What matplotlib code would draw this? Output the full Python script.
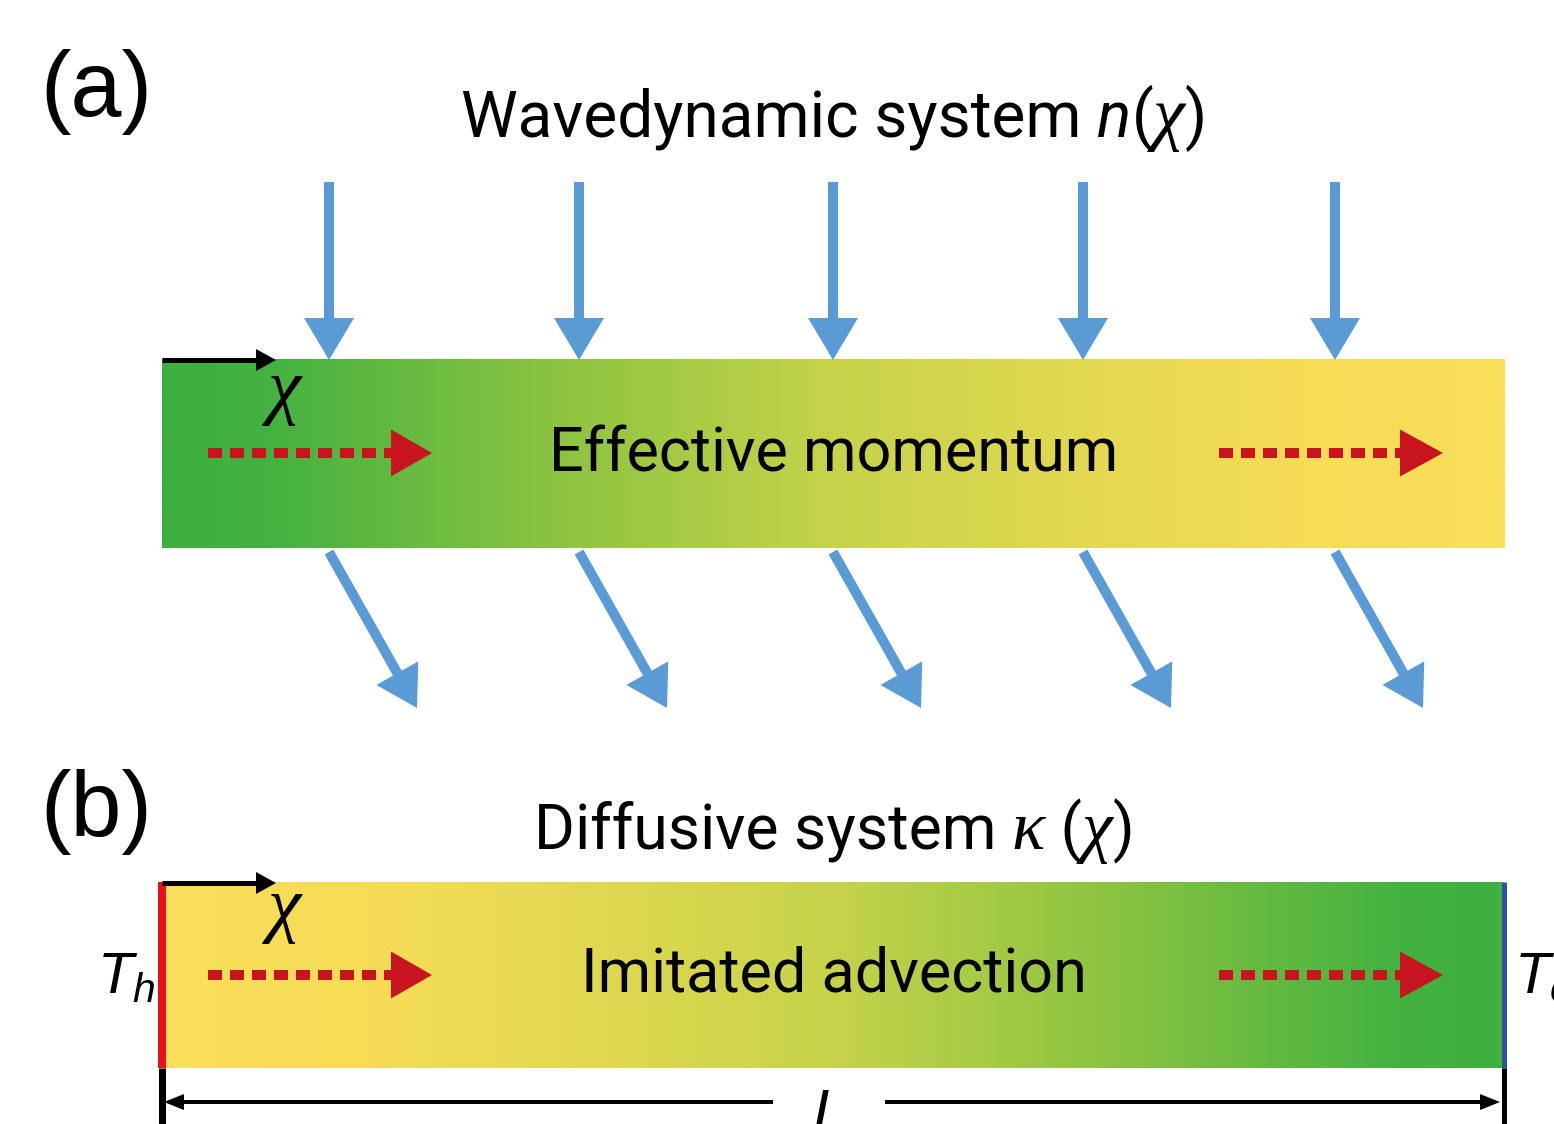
import numpy as np
import matplotlib
matplotlib.use("Agg")
import matplotlib.pyplot as plt
from matplotlib.colors import LinearSegmentedColormap
from matplotlib.patches import Polygon

W, H, DPI = 1554, 1124, 100

plt.rcParams["mathtext.fontset"] = "custom"
plt.rcParams["mathtext.rm"] = "Liberation Sans"
plt.rcParams["mathtext.it"] = "Liberation Sans:italic"

# ---- content -------------------------------------------------------------
panel_labels = ["(a)", "(b)"]
bar_labels = ["Effective momentum", "Imitated advection"]
title_a = [("Wavedynamic system ", "sans"), ("n", "sans_it"), ("(", "sans"),
           ("\u03c7", "serif_it"), (")", "sans")]
title_b = [("Diffusive system ", "sans"), ("\u03ba", "serif_it"), (" (", "sans"),
           ("\u03c7", "serif_it"), (")", "sans")]
coord_label = "\u03c7"
hot_label, cold_label, length_label = r"$T_h$", r"$T_c$", "L"

# gradient of the effective index / conductivity along the bar
grad_stops = [0.0, 0.08, 0.3, 0.5, 0.7, 0.85, 1.0]
grad_colors = ["#3db03f", "#44b240", "#8fc441", "#c6d34a", "#e4d951", "#f7dc56", "#f9df5a"]

# columns of the incident / refracted rays
ray_columns = [329, 579, 833, 1083, 1335]

BLUE = "#5b9bd5"
RED = "#c8141e"

SANS = ["Liberation Sans Narrow", "Roboto", "DejaVu Sans"]
FONTS = {
    "sans": dict(family=SANS, style="normal"),
    "sans_it": dict(family=SANS, style="italic"),
    "serif_it": dict(family=["Liberation Serif", "DejaVu Serif"], style="italic"),
    "plain": dict(family=["Liberation Sans", "DejaVu Sans"], style="normal"),
    "plain_it": dict(family=["Liberation Sans", "DejaVu Sans"], style="italic"),
}

fig = plt.figure(figsize=(W / DPI, H / DPI), dpi=DPI)
ax = fig.add_axes([0, 0, 1, 1])
ax.set_axis_off()


def px2pt(px):
    return px * 72.0 / DPI


def arrow(start, tip, lw_px, head_len, head_w, color, dashes=None, z=4):
    s = np.asarray(start, float)
    t = np.asarray(tip, float)
    d = t - s
    u = d / np.hypot(*d)
    n = np.array([-u[1], u[0]])
    base = t - u * head_len
    end = base + u * 2
    kw = dict(color=color, lw=px2pt(lw_px), solid_capstyle="butt", zorder=z)
    if dashes is not None:
        kw.update(linestyle=(0, dashes), dash_capstyle="butt")
    ax.plot([s[0], end[0]], [s[1], end[1]], **kw)
    ax.add_patch(Polygon([t, base + n * head_w / 2, base - n * head_w / 2],
                         closed=True, fc=color, ec="none", zorder=z))


def gradient_bar(x0, x1, y0, y1, reverse=False):
    cmap = LinearSegmentedColormap.from_list("bar", list(zip(grad_stops, grad_colors)))
    g = np.linspace(0, 1, 512)[None, :]
    if reverse:
        g = g[:, ::-1]
    ax.imshow(g, cmap=cmap, extent=(x0, x1, y1, y0), aspect="auto",
              interpolation="bilinear", zorder=1)


def text_runs(cx, baseline, runs, size, sizes=None):
    """Lay out a row of differently styled text runs centred on cx."""
    renderer = fig.canvas.get_renderer()
    objs = []
    for i, (s, style) in enumerate(runs):
        fs = sizes[i] if sizes else size
        objs.append(ax.text(0, baseline, s, fontsize=fs, ha="left", va="baseline",
                            zorder=6, **FONTS[style]))
    widths = [o.get_window_extent(renderer).width for o in objs]
    x = cx - sum(widths) / 2
    for o, w in zip(objs, widths):
        o.set_x(x)
        x += w


ax.set_xlim(0, W)
ax.set_ylim(H, 0)

# ---- panel (a): wavedynamic system -------------------------------------
ax.text(96, 92, panel_labels[0], fontsize=66, ha="center", va="center", **FONTS["plain"])
text_runs(834, 137, title_a, 46, sizes=[46, 46, 46, 52, 46])

gradient_bar(162, 1505, 359, 548)
for cx in ray_columns:
    arrow((cx, 182), (cx, 360), 10, 42, 50, BLUE)
    arrow((cx, 552), (cx + 88, 708), 10, 40, 48, BLUE)

arrow((162, 360), (276, 360), 5, 20, 22, "black", z=5)
ax.text(284, 392, coord_label, fontsize=54, ha="center", va="center", zorder=6, **FONTS["serif_it"])
arrow((208, 453), (432, 453), 10, 41, 47, RED, dashes=(1.4, 0.8))
arrow((1219, 453), (1443, 453), 10, 43, 47, RED, dashes=(1.4, 0.8))
text_runs(834, 472, [(bar_labels[0], "sans")], 44)

# ---- panel (b): diffusive system ---------------------------------------
ax.text(96, 812, panel_labels[1], fontsize=66, ha="center", va="center", **FONTS["plain"])
text_runs(834, 849, title_b, 45, sizes=[45, 50, 45, 50, 45])

gradient_bar(162, 1503, 882, 1068, reverse=True)
ax.plot([162, 162], [882, 1068], color="#e8101a", lw=px2pt(8), solid_capstyle="butt", zorder=5)
ax.plot([1504, 1504], [882, 1068], color="#3050a0", lw=px2pt(5), solid_capstyle="butt", zorder=5)
ax.plot([162, 162], [1068, H], color="black", lw=px2pt(7), solid_capstyle="butt", zorder=5)
ax.plot([1504, 1504], [1068, H], color="black", lw=px2pt(5), solid_capstyle="butt", zorder=5)

arrow((162, 883), (276, 883), 5, 20, 22, "black", z=5)
ax.text(284, 910, coord_label, fontsize=54, ha="center", va="center", zorder=6, **FONTS["serif_it"])
arrow((208, 975), (432, 975), 10, 41, 47, RED, dashes=(1.4, 0.8))
arrow((1219, 975), (1443, 975), 10, 43, 47, RED, dashes=(1.4, 0.8))
text_runs(834, 991, [(bar_labels[1], "sans")], 44)

# boundary temperatures
ax.text(97, 993, hot_label, fontsize=42, ha="left", va="baseline")
ax.text(1514, 993, cold_label, fontsize=42, ha="left", va="baseline")

# length of the bar
arrow((773, 1102), (164, 1102), 4, 20, 16, "black", z=5)
arrow((885, 1102), (1500, 1102), 4, 20, 16, "black", z=5)
ax.text(829, 1132, length_label, fontsize=44, ha="center", va="baseline", **FONTS["plain_it"])

fig.savefig("out.png", dpi=DPI)
